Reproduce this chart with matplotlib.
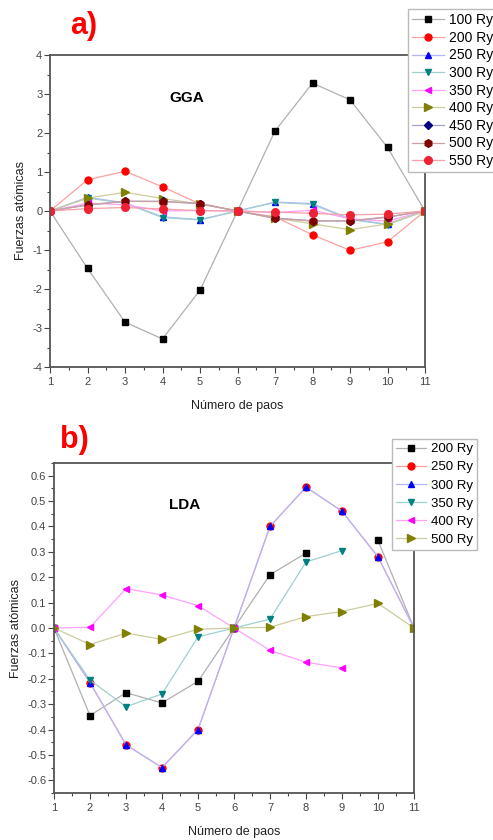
import numpy as np
import matplotlib
matplotlib.use("Agg")
import matplotlib.pyplot as plt
from matplotlib.ticker import MultipleLocator

plt.rcParams['font.family'] = ['Liberation Sans', 'DejaVu Sans']
plt.rcParams['axes.unicode_minus'] = False

steps = list(range(1, 12))
nan = np.nan

# GGA panel
gga_labels = ["100 Ry", "200 Ry", "250 Ry", "300 Ry", "350 Ry", "400 Ry", "450 Ry", "500 Ry", "550 Ry"]
gga_100 = [0, -1.47, -2.85, -3.28, -2.03, 0, 2.05, 3.28, 2.85, 1.63, 0]
gga_200 = [0, 0.80, 1.02, 0.62, 0.18, 0, -0.15, -0.61, -1.01, -0.79, 0]
gga_250 = [0, 0.35, 0.21, -0.15, -0.22, 0, 0.23, 0.19, -0.20, -0.34, 0]
gga_300 = [0, 0.33, 0.20, -0.17, -0.23, 0, 0.22, 0.17, -0.22, -0.35, 0]
gga_350 = [0, 0.20, 0.16, 0.00, 0.01, 0, -0.04, 0.02, -0.20, -0.26, 0]
gga_400 = [0, 0.33, 0.48, 0.32, 0.18, 0, -0.18, -0.33, -0.48, -0.33, 0]
gga_450 = [0, 0.15, 0.25, 0.25, 0.19, 0, -0.18, -0.25, -0.26, -0.16, 0]
gga_500 = [0, 0.16, 0.25, 0.24, 0.19, 0, -0.19, -0.26, -0.25, -0.15, 0]
gga_550 = [0, 0.06, 0.09, 0.05, 0.01, 0, -0.03, -0.06, -0.10, -0.08, 0]
gga_series = [gga_100, gga_200, gga_250, gga_300, gga_350, gga_400, gga_450, gga_500, gga_550]

# LDA panel
lda_labels = ["200 Ry", "250 Ry", "300 Ry", "350 Ry", "400 Ry", "500 Ry"]
lda_200 = [0, -0.345, -0.255, -0.295, -0.21, 0, 0.21, 0.295, nan, 0.345, 0]
lda_250 = [0, -0.215, -0.46, -0.55, -0.40, 0, 0.40, 0.555, 0.46, 0.28, 0]
lda_300 = [0, -0.215, -0.46, -0.55, -0.40, 0, 0.40, 0.555, 0.46, 0.28, 0]
lda_350 = [0, -0.205, -0.31, -0.26, -0.035, 0, 0.035, 0.26, 0.305, nan, nan]
lda_400 = [0, 0.003, 0.155, 0.13, 0.088, 0, -0.088, -0.135, -0.157, nan, nan]
lda_500 = [0, -0.065, -0.02, -0.045, -0.005, 0, 0.003, 0.045, 0.065, 0.097, 0]
lda_series = [lda_200, lda_250, lda_300, lda_350, lda_400, lda_500]

gga_styles = [
    ('s', '#000000', '#b0b0b0', 4.0),
    ('o', '#ff0000', '#ffa0a0', 5.0),
    ('^', '#0000ff', '#b4b4ff', 5.0),
    ('v', '#008080', '#a0d0d0', 5.0),
    ('<', '#ff00ff', '#ffa0ff', 5.0),
    ('>', '#808000', '#cccca0', 5.5),
    ('D', '#000080', '#a0a0cc', 4.0),
    ('h', '#800000', '#cca0a0', 5.5),
    ('o', '#ee2233', '#f5a0a8', 5.5),
]
lda_styles = [
    ('s', '#000000', '#b0b0b0', 4.0),
    ('o', '#ff0000', '#ffa0a0', 5.0),
    ('^', '#0000ff', '#b4b4ff', 5.0),
    ('v', '#008080', '#a0d0d0', 5.0),
    ('<', '#ff00ff', '#ffa0ff', 5.0),
    ('>', '#808000', '#cccca0', 5.5),
]

W, H = 493, 840
fig = plt.figure(figsize=(W / 100, H / 100), dpi=100)

def style_axes(ax):
    for s in ax.spines.values():
        s.set_color('#555555')
        s.set_linewidth(1.3)
    ax.tick_params(which='both', direction='out', colors='#444444', labelsize=8, width=0.8)
    ax.tick_params(which='major', length=4)
    ax.tick_params(which='minor', length=2.5)
    ax.tick_params(axis='y', pad=1.5)
    ax.set_xlim(1, 11)
    ax.xaxis.set_major_locator(MultipleLocator(1))
    ax.xaxis.set_minor_locator(MultipleLocator(0.5))
    ax.set_xlabel("Número de paos", fontsize=9, color='#222222', labelpad=9)
    ax.set_ylabel("Fuerzas atómicas", fontsize=9, color='#222222', labelpad=4)

# Top panel (GGA)
ax1 = fig.add_axes([50 / W, 1 - 367 / H, 375 / W, 312 / H])
for data, lab, (m, c, lc, ms) in zip(gga_series, gga_labels, gga_styles):
    ax1.plot(steps, data, color=lc, lw=0.9, marker=m, mfc=c, mec=c, ms=ms, label=lab)
style_axes(ax1)
ax1.set_ylim(-4, 4)
ax1.yaxis.set_major_locator(MultipleLocator(1))
ax1.yaxis.set_minor_locator(MultipleLocator(0.5))
ax1.text(0.365, 0.862, "GGA", transform=ax1.transAxes, fontsize=11, fontweight='bold', ha='center', va='center')
leg1 = fig.legend(loc='upper left', bbox_to_anchor=(408 / W, 1 - 9 / H), fontsize=10,
                  handlelength=2.3, handletextpad=0.35, labelspacing=0.26, borderpad=0.3,
                  borderaxespad=0, fancybox=False, edgecolor='#bbbbbb', framealpha=1,
                  handles=ax1.get_lines())
leg1.get_frame().set_linewidth(1.0)
fig.text(70 / W, 1 - 26 / H, "a)", color='#ff0000', fontsize=22, fontweight='bold', va='center', ha='left')

# Bottom panel (LDA)
ax2 = fig.add_axes([54 / W, 1 - 793 / H, 360 / W, 330 / H])
for data, lab, (m, c, lc, ms) in zip(lda_series, lda_labels, lda_styles):
    ax2.plot(steps, data, color=lc, lw=0.9, marker=m, mfc=c, mec=c, ms=ms, label=lab)
style_axes(ax2)
ax2.set_ylim(-0.65, 0.65)
ax2.yaxis.set_major_locator(MultipleLocator(0.1))
ax2.yaxis.set_minor_locator(MultipleLocator(0.05))
ax2.yaxis.set_major_formatter(matplotlib.ticker.FormatStrFormatter('%.1f'))
ax2.text(0.364, 0.873, "LDA", transform=ax2.transAxes, fontsize=11, fontweight='bold', ha='center', va='center')
leg2 = fig.legend(loc='upper left', bbox_to_anchor=(392 / W, 1 - 439 / H), fontsize=9.5,
                  handlelength=2.3, handletextpad=0.35, labelspacing=0.45, borderpad=0.3,
                  borderaxespad=0, fancybox=False, edgecolor='#bbbbbb', framealpha=1,
                  handles=ax2.get_lines())
leg2.get_frame().set_linewidth(1.0)
fig.text(60 / W, 1 - 440 / H, "b)", color='#ff0000', fontsize=22, fontweight='bold', va='center', ha='left')

fig.savefig("out.png", dpi=100)
